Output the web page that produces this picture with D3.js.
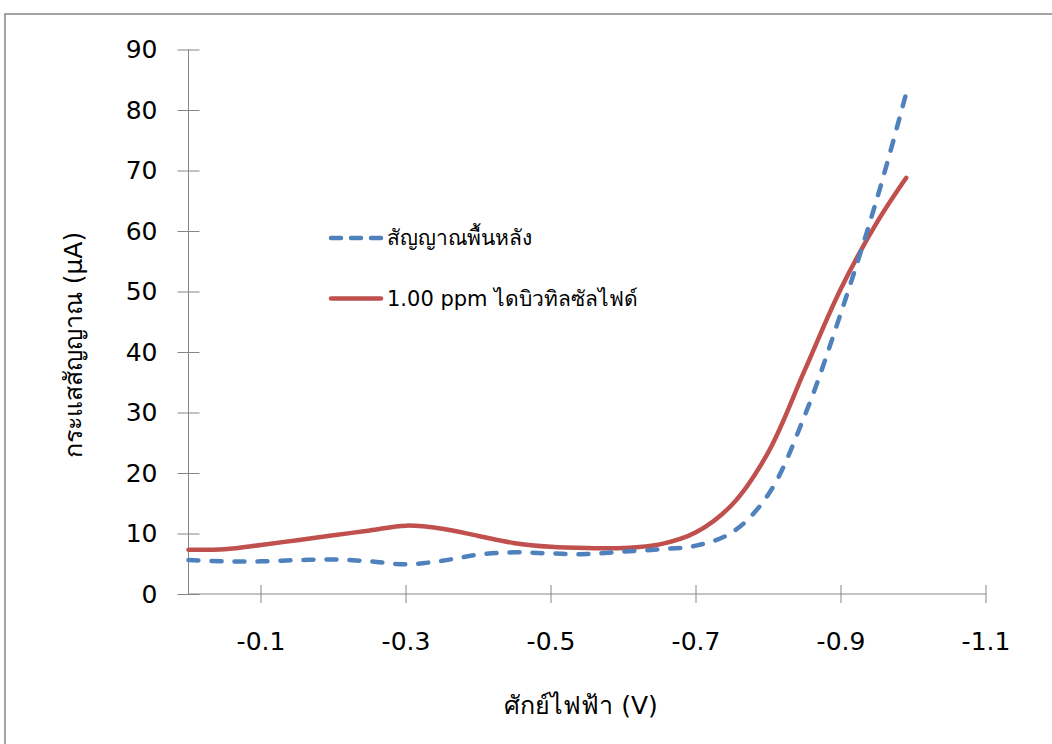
<!DOCTYPE html>
<meta charset="utf-8">
<style>
  body { margin: 0; background: #fff; }
  text { font-family: "DejaVu Sans", "Noto Sans", sans-serif; fill: #000; }
</style>
<svg width="1052" height="744"></svg>
<script src="https://cdn.jsdelivr.net/npm/d3@7"></script>
<script>

// potentials (V) and currents (uA)
var potentials = [0, -0.05, -0.1, -0.15, -0.2, -0.25, -0.3, -0.35, -0.4, -0.45, -0.5,
                  -0.55, -0.6, -0.65, -0.7, -0.75, -0.8, -0.85, -0.9, -0.95, -0.99];
var background = [5.6, 5.4, 5.4, 5.6, 5.7, 5.4, 4.9, 5.5, 6.5, 6.9, 6.7,
                  6.6, 7.0, 7.4, 8.0, 10.2, 16.5, 29.5, 46.5, 65.5, 82.8];
var sample = [7.3, 7.4, 8.1, 8.9, 9.7, 10.5, 11.3, 10.8, 9.6, 8.4, 7.8,
              7.6, 7.6, 8.2, 10.2, 14.8, 23.5, 37.0, 50.5, 61.5, 68.8];
var seriesNames = ["สัญญาณพื้นหลัง", "1.00 ppm ไดบิวทิลซัลไฟด์"];
var xTicks = [-0.1, -0.3, -0.5, -0.7, -0.9, -1.1];
var yTicks = [0, 10, 20, 30, 40, 50, 60, 70, 80, 90];

var svg = d3.select("svg"),
    axisColor = "#868686";

// outer frame
svg.append("rect")
    .attr("x", 5).attr("y", 14)
    .attr("width", 1100).attr("height", 800)
    .attr("fill", "none")
    .attr("stroke", "#878787")
    .attr("stroke-width", 1.5);

var x = d3.scaleLinear().domain([0, -1.1]).range([188.5, 986]),
    y = d3.scaleLinear().domain([0, 90]).range([594, 49.5]);

// y axis
var yAxis = svg.append("g").attr("transform", "translate(" + x(0) + ",0)");
yAxis.append("line")
    .attr("y1", y(0)).attr("y2", y(90))
    .attr("stroke", axisColor);
yAxis.selectAll(".tick")
    .data(yTicks)
    .enter().append("line")
      .attr("x1", -11).attr("x2", 11)
      .attr("y1", function (d) { return y(d) + 0.5; })
      .attr("y2", function (d) { return y(d) + 0.5; })
      .attr("stroke", axisColor);
yAxis.selectAll(".lbl")
    .data(yTicks)
    .enter().append("text")
      .attr("x", -31)
      .attr("y", function (d) { return y(d); })
      .attr("dy", "0.35em")
      .attr("text-anchor", "end")
      .style("font-size", "25px")
      .text(function (d) { return d; });

// x axis
var xAxis = svg.append("g").attr("transform", "translate(0," + y(0) + ")");
xAxis.append("line")
    .attr("x1", x(0)).attr("x2", x(-1.1))
    .attr("stroke", axisColor);
xAxis.selectAll(".tick")
    .data(xTicks)
    .enter().append("line")
      .attr("x1", function (d) { return x(d); })
      .attr("x2", function (d) { return x(d); })
      .attr("y1", -9).attr("y2", 9)
      .attr("stroke", axisColor);
xAxis.selectAll(".lbl")
    .data(xTicks)
    .enter().append("text")
      .attr("x", function (d) { return x(d); })
      .attr("y", 56)
      .attr("text-anchor", "middle")
      .style("font-size", "25px")
      .text(function (d) { return d.toFixed(1); });

// axis titles
svg.append("text")
    .attr("transform", "translate(82,345) rotate(-90)")
    .attr("text-anchor", "middle")
    .style("font-size", "25px")
    .text("กระแสสัญญาณ (µA)");
svg.append("text")
    .attr("x", 581).attr("y", 714)
    .attr("text-anchor", "middle")
    .style("font-size", "25px")
    .text("ศักย์ไฟฟ้า (V)");

// curves
var line = d3.line()
    .x(function (d) { return x(d[0]); })
    .y(function (d) { return y(d[1]); })
    .curve(d3.curveCatmullRom.alpha(0.5));

svg.append("path")
    .datum(d3.zip(potentials, sample))
    .attr("d", line)
    .attr("fill", "none")
    .attr("stroke", "#C0504D")
    .attr("stroke-width", 4.5)
    .attr("stroke-linecap", "round");

svg.append("path")
    .datum(d3.zip(potentials, background))
    .attr("d", line)
    .attr("fill", "none")
    .attr("stroke", "#4F81BD")
    .attr("stroke-width", 4.5)
    .attr("stroke-dasharray", "10,13")
    .attr("stroke-linecap", "round");

// legend
var legend = svg.append("g");
var legendItems = [
  {name: seriesNames[0], color: "#4F81BD", dash: "10,10", y: 238},
  {name: seriesNames[1], color: "#C0504D", dash: null, y: 298.5}
];
legendItems.forEach(function (d) {
  legend.append("line")
      .attr("x1", 331).attr("x2", 381)
      .attr("y1", d.y).attr("y2", d.y)
      .attr("stroke", d.color)
      .attr("stroke-width", 4.5)
      .attr("stroke-linecap", "round")
      .attr("stroke-dasharray", d.dash);
  legend.append("text")
      .attr("x", 387).attr("y", d.y)
      .attr("dy", "0.35em")
      .style("font-size", "21px")
      .text(d.name);
});

</script>
